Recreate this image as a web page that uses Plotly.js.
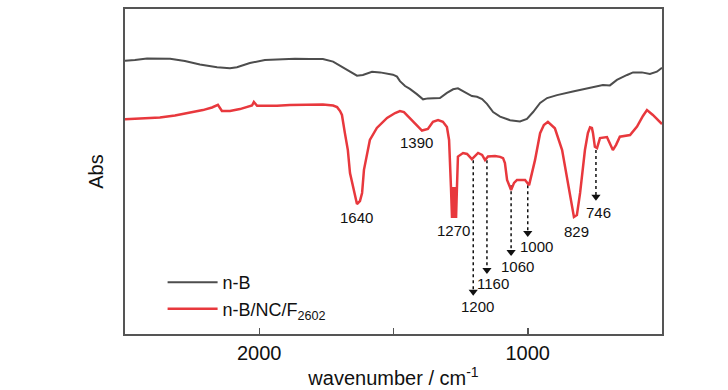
<!DOCTYPE html>
<html>
<head>
<meta charset="utf-8">
<script src="https://cdn.plot.ly/plotly-3.0.1.min.js"></script>
<style>html,body{margin:0;padding:0;background:#fff;}#chart{width:728px;height:390px;}</style>
</head>
<body>
<div id="chart"></div>
<script>
// n-B spectrum (wavenumber cm-1, absorbance a.u.)
var nbX = [2500,2463,2418,2370,2332,2277,2221,2157,2109,2083,2035,1979,1923,1867,1811,1763,1725,1681,1636,1614,1580,1550,1524,1502,1487,1476,1457,1439,1413,1390,1372,1353,1327,1301,1278,1260,1241,1226,1208,1189,1170,1152,1129,1103,1066,1029,1003,980,954,928,891,832,787,757,720,694,668,630,608,575,545,519,500];
var nbY = [0.841,0.843,0.848,0.848,0.847,0.840,0.829,0.821,0.818,0.821,0.834,0.843,0.846,0.847,0.846,0.846,0.838,0.818,0.795,0.797,0.807,0.805,0.800,0.798,0.792,0.778,0.763,0.754,0.738,0.722,0.725,0.725,0.726,0.742,0.753,0.756,0.748,0.742,0.732,0.730,0.723,0.708,0.683,0.669,0.658,0.654,0.662,0.683,0.711,0.726,0.735,0.746,0.754,0.760,0.766,0.765,0.782,0.797,0.805,0.805,0.800,0.807,0.819];

// n-B/NC/F2602 spectrum
var ncX = [2500,2444,2370,2314,2269,2210,2176,2165,2154,2139,2109,2072,2046,2027,2020,2008,1971,1934,1886,1822,1763,1725,1710,1699,1692,1681,1670,1662,1651,1643,1636,1625,1617,1610,1602,1588,1562,1524,1494,1476,1461,1450,1427,1409,1394,1372,1353,1334,1316,1301,1293,1286,1282,1278,1275,1271,1267,1264,1260,1241,1226,1208,1185,1170,1159,1148,1122,1103,1092,1085,1077,1062,1051,1040,1010,995,984,973,954,940,925,899,872,850,835,828,817,805,787,776,768,761,757,750,742,731,705,683,671,657,619,593,571,556,534,500];
var ncY = [0.661,0.663,0.666,0.672,0.679,0.689,0.697,0.702,0.705,0.686,0.686,0.692,0.698,0.703,0.714,0.702,0.702,0.702,0.705,0.706,0.706,0.703,0.698,0.686,0.674,0.618,0.566,0.495,0.455,0.422,0.400,0.409,0.434,0.505,0.542,0.597,0.634,0.665,0.680,0.686,0.683,0.674,0.653,0.640,0.626,0.631,0.653,0.658,0.653,0.637,0.597,0.452,0.357,0.452,0.357,0.452,0.357,0.443,0.546,0.557,0.554,0.538,0.557,0.551,0.535,0.546,0.548,0.545,0.541,0.526,0.474,0.443,0.465,0.474,0.474,0.458,0.498,0.535,0.618,0.643,0.653,0.633,0.566,0.465,0.388,0.360,0.366,0.434,0.566,0.618,0.636,0.634,0.618,0.576,0.572,0.603,0.606,0.566,0.582,0.607,0.612,0.638,0.671,0.689,0.674,0.646];

// peak labels
var peakText = ["1640","1390","1270","1200","1160","1060","1000","829","746"];
var peakLabelX = [1636,1415,1275,1189,1129,1040,966,820,735];
var peakLabelY = [0.360,0.588,0.317,0.086,0.154,0.209,0.268,0.314,0.375];

// dotted arrow markers
var arrowX = [1203,1152,1062,1000,746];
var arrowTop = [0.535,0.535,0.458,0.458,0.566];
var arrowHead = [0.130,0.197,0.252,0.311,0.422];

// x tick labels
var tickVals = [2000,1000];
var tickText = ["2000","1000"];
var minorTickVals = [1500];

var FONT = "Liberation Sans, Arial, sans-serif";
var traces = [];
for (var i = 0; i < arrowX.length; i++) {
  traces.push({x:[arrowX[i],arrowX[i]], y:[arrowTop[i],arrowHead[i]], mode:'lines',
    line:{color:'#111', width:1.5, dash:'dot'}, showlegend:false, hoverinfo:'skip'});
}
traces.push({x:arrowX, y:arrowHead, mode:'markers',
  marker:{symbol:'triangle-down', size:8, color:'#111'}, showlegend:false, hoverinfo:'skip'});
traces.push({x:nbX, y:nbY, mode:'lines', name:'n-B', line:{color:'#4d4d4d', width:2}});
traces.push({x:ncX, y:ncY, mode:'lines', name:'n-B/NC/F<sub>2602</sub>', line:{color:'#e8383d', width:2.5}});

var annotations = peakText.map(function(t, i){
  return {x:peakLabelX[i], y:peakLabelY[i], xref:'x', yref:'y', text:t, showarrow:false,
    font:{family:FONT, size:15, color:'#111'}};
});

var layout = {
  width:728, height:390,
  margin:{l:125, r:66, t:9, b:56},
  paper_bgcolor:'#fff', plot_bgcolor:'#fff',
  font:{family:FONT, color:'#111'},
  showlegend:true,
  legend:{x:0.07, y:0.215, xanchor:'left', yanchor:'top', bgcolor:'rgba(0,0,0,0)',
    font:{family:FONT, size:18, color:'#111'}, itemwidth:50, tracegroupgap:0},
  xaxis:{range:[2500,500], showgrid:false, zeroline:false, showline:true, mirror:true,
    linecolor:'#555', linewidth:2, ticks:'inside', ticklen:6, tickwidth:1.5, tickcolor:'#555',
    tickmode:'array', tickvals:tickVals, ticktext:tickText, tickfont:{family:FONT, size:20, color:'#111'},
    minor:{tickmode:'array', tickvals:minorTickVals, ticks:'inside', ticklen:6, tickwidth:1.5, tickcolor:'#555', showgrid:false},
    title:{text:'wavenumber / cm<sup>-1</sup>', font:{family:FONT, size:20, color:'#111'}, standoff:8}},
  yaxis:{range:[0,1], showgrid:false, zeroline:false, showline:true, mirror:true,
    linecolor:'#555', linewidth:2, ticks:'', showticklabels:false,
    title:{text:'Abs', font:{family:FONT, size:20, color:'#111'}, standoff:14}},
  annotations:annotations
};
Plotly.newPlot('chart', traces, layout, {staticPlot:true, displayModeBar:false});
</script>
</body>
</html>
